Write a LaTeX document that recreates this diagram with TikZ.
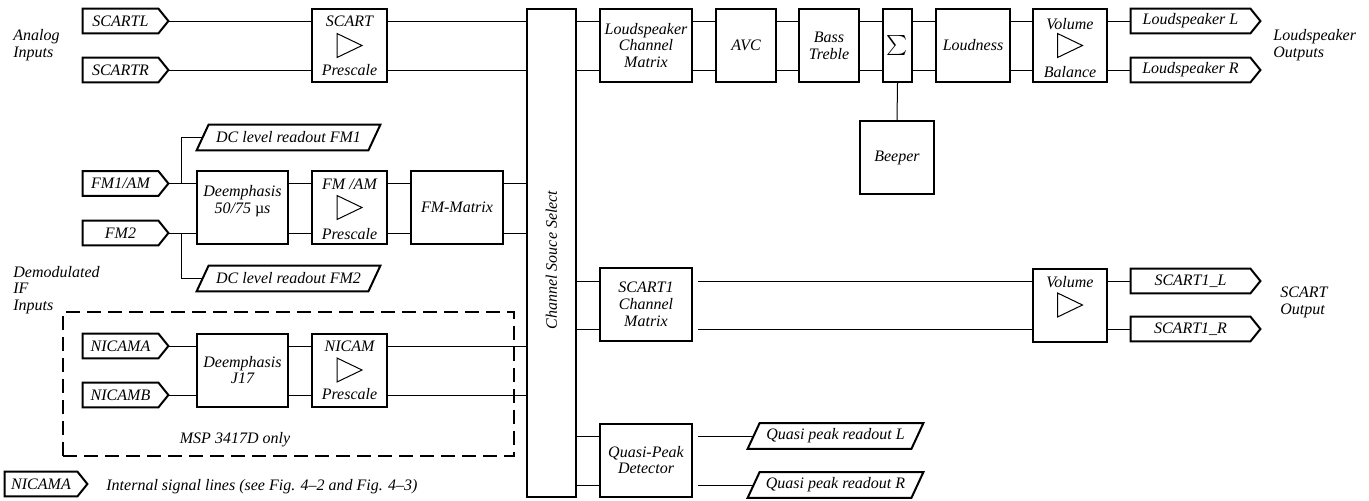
\documentclass[tikz,border=0pt]{standalone}
\usepackage{fontspec}
\setmainfont{Liberation Serif}
\newcommand\mktag[5]{%
  \node[tagbody, minimum width=#4] (#1) at (#2,#3) {#5};
  \draw[outl] (#1.south west) -- (#1.north west) -- (#1.north east) -- ([xshift=5pt]#1.east) -- (#1.south east) -- cycle;
  \coordinate (#1-tip) at ([xshift=5pt]#1.east);
}
\newcommand\mkpar[5]{%
  \node[parbody, minimum width=#4] (#1) at (#2,#3) {#5};
  \draw[outl] ([xshift=-3pt]#1.south west) -- ([xshift=3pt]#1.north west) -- ([xshift=3pt]#1.north east) -- ([xshift=-3pt]#1.south east) -- cycle;
}
\newcommand\mktri[1]{%
  \draw[tri] ([xshift=-6.25pt,yshift=6pt]#1.center) -- ([xshift=6.25pt]#1.center) -- ([xshift=-6.25pt,yshift=-6pt]#1.center) -- cycle;
}
\begin{document}
\begin{tikzpicture}[x=0.5pt,y=-0.5pt,
  every node/.style={font=\fontsize{8}{8.4}\selectfont\itshape, inner sep=0pt},
  blk/.style={draw, line width=1pt, minimum height=36.5pt, align=center},
  tagbody/.style={minimum height=12pt},
  parbody/.style={minimum height=12.5pt},
  outl/.style={line width=1pt, line join=miter},
  wire/.style={line width=0.5pt},
  tri/.style={line width=0.5pt, line join=miter},
  lbl/.style={align=left, anchor=west},
  mspstyle/.style={draw, line width=1pt, dash pattern=on 7pt off 3.5pt, minimum width=225.5pt, minimum height=72pt},
]
\useasboundingbox (0,0) rectangle (1369,500);

% ---------- blocks ----------
\node[blk, minimum width=37.5pt] (scartpre) at (349.5,45.5) {};
\node[blk, minimum width=45.5pt] (deem1) at (242.5,207.5) {Deemphasis\\50/75 {\upshape µ}s\\\mbox{}};
\node[blk, minimum width=37.5pt] (fmpre) at (349.5,207.5) {};
\node[blk, minimum width=46pt] (fmmat) at (457,207.5) {FM-Matrix};
\node[blk, minimum width=45.5pt] (deem2) at (242.5,370) {Deemphasis\\J17};
\node[blk, minimum width=37.5pt] (nicpre) at (349.5,370) {};
\node[blk, minimum width=24.5pt, minimum height=244pt] (chsel) at (551.5,253) {};
\node[rotate=90] (chseltxt) at ([yshift=-3.5pt]chsel.center) {Channel Souce Select};

\node[blk, minimum width=46pt] (lcm) at (646,45.5) {Loudspeaker\\Channel\\Matrix};
\node[blk, minimum width=30pt] (avc) at (746,45.5) {AVC};
\node[blk, minimum width=30pt] (bt) at (829,45.5) {Bass\\Treble};
\node[blk, minimum width=14.5pt] (sum) at (897.5,45.5) {$\sum$};
\node[blk, minimum width=37pt] (loud) at (973,45.5) {Loudness};
\node[blk, minimum width=37pt] (volb) at (1070,45.5) {};
\node[blk, minimum width=37pt] (beep) at (897,157.5) {Beeper};
\node[blk, minimum width=46pt] (s1cm) at (646,304.5) {SCART1\\Channel\\Matrix};
\node[blk, minimum width=37pt] (vol2) at (1070,305) {};
\node[blk, minimum width=46pt] (qpd) at (646,460) {Quasi-Peak\\Detector};

% block inner labels and triangles
\node (scartpre-t) at ([yshift=-6.5pt]scartpre.north) {SCART};
\node (scartpre-b) at ([yshift=6.5pt]scartpre.south) {Prescale};
\mktri{scartpre}
\node (fmpre-t) at ([yshift=-7pt]fmpre.north) {FM /AM};
\node (fmpre-b) at ([yshift=5.5pt]fmpre.south) {Prescale};
\mktri{fmpre}
\node (nicpre-t) at ([yshift=-7pt]nicpre.north) {NICAM};
\node (nicpre-b) at ([yshift=6.5pt]nicpre.south) {Prescale};
\mktri{nicpre}
\node (volb-t) at ([yshift=-8pt]volb.north) {Volume};
\node (volb-b) at ([yshift=5.5pt]volb.south) {Balance};
\mktri{volb}
\node (vol2-t) at ([yshift=-7.5pt]vol2.north) {Volume};
\mktri{vol2}

% ---------- tags ----------
\mktag{scl}{120.5}{21}{37.5pt}{SCARTL}
\mktag{scr}{120.5}{70}{37.5pt}{SCARTR}
\mktag{fm1}{120.5}{183.5}{37.5pt}{FM1/AM}
\mktag{fm2}{120.5}{233}{37.5pt}{FM2}
\mktag{nica}{120.5}{346}{37.5pt}{NICAMA}
\mktag{nicb}{120.5}{395}{37.5pt}{NICAMB}
\mktag{leg}{41}{484}{36pt}{NICAMA}
\mktag{lsl}{1190.5}{21}{59.5pt}{Loudspeaker L}
\mktag{lsr}{1190.5}{70}{59.5pt}{Loudspeaker R}
\mktag{s1l}{1190.5}{281}{59.5pt}{SCART1\_L}
\mktag{s1r}{1190.5}{329}{59.5pt}{SCART1\_R}

% ---------- parallelograms ----------
\mkpar{dc1}{288.5}{137.5}{85.5pt}{DC level readout FM1}
\mkpar{dc2}{288.5}{278.5}{85.5pt}{DC level readout FM2}
\mkpar{qpl}{835.5}{436}{81.5pt}{Quasi peak readout L}
\mkpar{qpr}{835.5}{485}{81.5pt}{Quasi peak readout R}

% ---------- dashed region ----------
\node[mspstyle] (mspbox) at (288.5,384) {};
\node (msp) at (235,440) {MSP 3417D only};

% ---------- free labels ----------
\node[lbl] (ain) at (13,45) {Analog\\Inputs};
\node[lbl] (dif) at (13,290) {Demodulated\\IF\\Inputs};
\node[lbl] (lout) at (1273,45) {Loudspeaker\\Outputs};
\node[lbl] (sout) at (1280,302) {SCART\\Output};
\node[lbl] (legt) at (106,487) {Internal signal lines (see Fig. 4–2 and Fig. 4–3)};

% ---------- wires ----------
% analog
\draw[wire] (scl-tip) -- (scl-tip -| scartpre.west);
\draw[wire] (scr-tip) -- (scr-tip -| scartpre.west);
\draw[wire] (scartpre.east |- scl) -- (chsel.west |- scl);
\draw[wire] (scartpre.east |- scr) -- (chsel.west |- scr);
% FM
\draw[wire] (fm1-tip) -- (fm1-tip -| deem1.west);
\draw[wire] (fm2-tip) -- (fm2-tip -| deem1.west);
\coordinate (brA) at ([xshift=6.5pt]fm1-tip);
\coordinate (brB) at ([xshift=6.5pt]fm2-tip);
\draw[wire] (brA) |- (dc1.west);
\draw[wire] (brB) |- (dc2.west);
\draw[wire] (deem1.east |- fm1) -- (fmpre.west |- fm1);
\draw[wire] (deem1.east |- fm2) -- (fmpre.west |- fm2);
\draw[wire] (fmpre.east |- fm1) -- (fmmat.west |- fm1);
\draw[wire] (fmpre.east |- fm2) -- (fmmat.west |- fm2);
\draw[wire] (fmmat.east |- fm1) -- (chsel.west |- fm1);
\draw[wire] (fmmat.east |- fm2) -- (chsel.west |- fm2);
% NICAM
\draw[wire] (nica-tip) -- (nica-tip -| deem2.west);
\draw[wire] (nicb-tip) -- (nicb-tip -| deem2.west);
\draw[wire] (deem2.east |- nica) -- (nicpre.west |- nica);
\draw[wire] (deem2.east |- nicb) -- (nicpre.west |- nicb);
\draw[wire] (nicpre.east |- nica) -- (chsel.west |- nica);
\draw[wire] (nicpre.east |- nicb) -- (chsel.west |- nicb);
% loudspeaker chain
\foreach \a/\b in {chsel/lcm, lcm/avc, avc/bt, bt/sum, sum/loud, loud/volb}{
  \draw[wire] (\a.east |- lsl) -- (\b.west |- lsl);
  \draw[wire] (\a.east |- lsr) -- (\b.west |- lsr);
}
\draw[wire] (volb.east |- lsl) -- (lsl.west);
\draw[wire] (volb.east |- lsr) -- (lsr.west);
\draw[wire] (sum.south) -- (beep.north);
% SCART out
\draw[wire] (chsel.east |- s1l) -- (s1cm.west |- s1l);
\draw[wire] (chsel.east |- s1r) -- (s1cm.west |- s1r);
\draw[wire, shorten <=2.5pt] (s1cm.east |- s1l) -- (vol2.west |- s1l);
\draw[wire, shorten <=2.5pt] (s1cm.east |- s1r) -- (vol2.west |- s1r);
\draw[wire] (vol2.east |- s1l) -- (s1l.west);
\draw[wire] (vol2.east |- s1r) -- (s1r.west);
% quasi peak
\draw[wire] (chsel.east |- qpl) -- (qpd.west |- qpl);
\draw[wire] (chsel.east |- qpr) -- (qpd.west |- qpr);
\draw[wire, shorten <=2.5pt] (qpd.east |- qpl) -- (qpl.west);
\draw[wire, shorten <=2.5pt] (qpd.east |- qpr) -- (qpr.west);
\end{tikzpicture}
\end{document}
